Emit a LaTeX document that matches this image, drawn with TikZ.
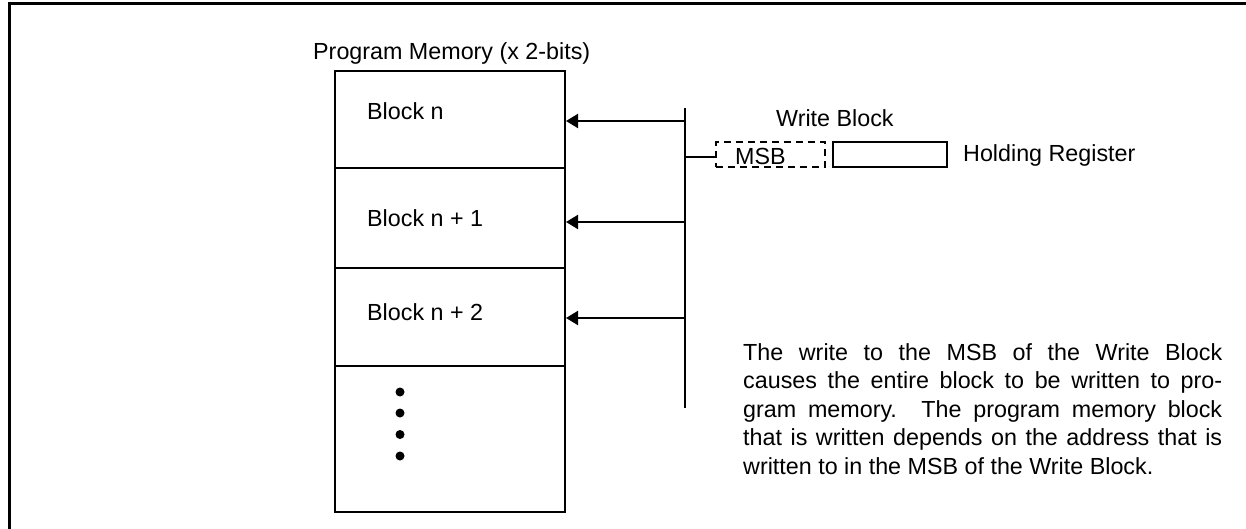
\documentclass[tikz,border=0pt]{standalone}
\usepackage{fontspec}
\setmainfont{Liberation Sans}
\usetikzlibrary{arrows.meta}
\begin{document}
\begin{tikzpicture}[x=1pt,y=-1pt,
  every node/.style={font=\fontsize{23.3}{28.6}\selectfont},
  blk/.style={draw, line width=2pt, minimum width=230pt, inner sep=0pt},
  lbl/.style={anchor=base west, inner sep=0pt},
  arr/.style={line width=2pt, -{Triangle[length=12pt,width=14pt]}},
  ln/.style={line width=2pt},
  regbox/.style={draw, line width=2pt, minimum width=114pt, minimum height=25pt, inner sep=0pt},
  msbbox/.style={draw, line width=1.8pt, dash pattern=on 7pt off 5pt, minimum width=109pt, minimum height=25pt, inner sep=0pt},
  dotm/.style={circle, fill, inner sep=0pt, minimum size=9pt}]
\useasboundingbox (0,0) rectangle (1246,529);
% outer frame
\draw[line width=3pt] (9,532) -- (9,4) -- (1250,4);
% title
\node[lbl] (title) at (313,60) {Program Memory (x 2-bits)};
% memory blocks
\node[blk, minimum height=97pt]  (b1) at (450,119.5) {};
\node[blk, minimum height=100pt] (b2) at (450,218) {};
\node[blk, minimum height=98pt]  (b3) at (450,317) {};
\node[blk, minimum height=146pt] (b4) at (450,439) {};
\node[lbl] (t1) at (367,120) {Block n};
\node[lbl] (t2) at (367,226) {Block n + 1};
\node[lbl] (t3) at (367,320) {Block n + 2};
% dots
\node[dotm] (d1) at (400,392) {};
\node[dotm] (d2) at (400,413) {};
\node[dotm] (d3) at (400,434.5) {};
\node[dotm] (d4) at (400,456) {};
% bus
\coordinate (bt) at (685,108);
\coordinate (bb) at (685,408);
\draw[ln] (bt) -- (bb);
\coordinate (a1) at (685,121);
\coordinate (a2) at (685,222);
\coordinate (a3) at (685,318);
\coordinate (a0) at (685,157);
\draw[arr] (a1) -- (b1.east |- a1);
\draw[arr] (a2) -- (b2.east |- a2);
\draw[arr] (a3) -- (b3.east |- a3);
% write block
\node[lbl] (wb) at (776,127) {Write Block};
\node[msbbox] (msb) at (770.5,154.5) {};
\node[lbl] (msbt) at (735,165) {MSB};
\node[regbox] (hold) at (890,154.5) {};
\node[lbl] (holdt) at (963,162) {Holding Register};
\draw[ln] (a0) -- (msb.west |- a0);
% description
\node[lbl] (desc) at (743,360) {\parbox[t]{479pt}{\fontsize{23.3}{28.6}\selectfont
The write to the MSB of the Write Block\linebreak
causes the entire block to be written to pro-\linebreak
gram memory. The program memory block\linebreak
that is written depends on the address that is\linebreak
written to in the MSB of the Write Block.}};
\end{tikzpicture}
\end{document}
